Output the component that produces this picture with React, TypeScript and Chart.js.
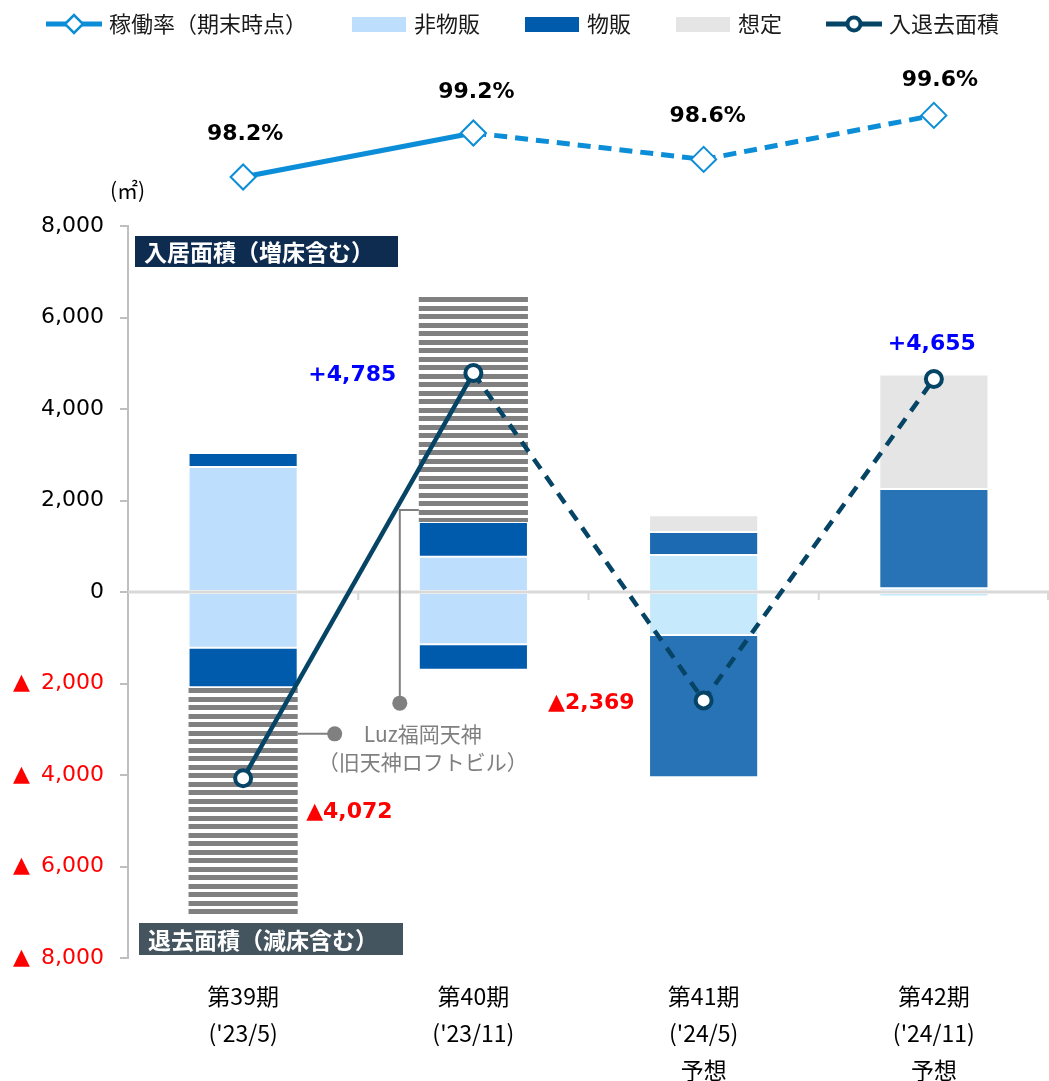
import React, { useEffect, useRef } from 'react';
import { Chart, registerables } from 'chart.js';

Chart.register(...registerables);

// ---------- data ----------
const CATEGORIES: string[][] = [
  ['第39期', "('23/5)"],
  ['第40期', "('23/11)"],
  ['第41期', "('24/5)", '予想'],
  ['第42期', "('24/11)", '予想'],
];
const OCCUPANCY_RATE = [98.2, 99.2, 98.6, 99.6];
const NET_AREA = [-4072, 4785, -2369, 4655];

const IN_NON_RETAIL = [2730, 770, 810, 80];
const IN_RETAIL = [310, 760, 500, 2170];
const IN_LUZ = [null, 4955, null, null];
const IN_ASSUMED = [null, null, 370, 2505];
const OUT_NON_RETAIL = [-1220, -1140, -940, -100];
const OUT_RETAIL = [-860, -560, -3109, null];
const OUT_LUZ = [-5032, null, null, null];

const Y_MIN = -8000;
const Y_MAX = 8000;
const Y_STEP = 2000;
const RATE_AXIS_MIN = 80.45;
const RATE_AXIS_MAX = 97.086;

const LEGEND_LABELS = ['稼働率（期末時点）', '非物販', '物販', '想定', '入退去面積'];
const LUZ_TEXT = ['Luz福岡天神', '（旧天神ロフトビル）'];
const BOX_IN_TEXT = '入居面積（増床含む）';
const BOX_OUT_TEXT = '退去面積（減床含む）';
const UNIT_TEXT = '(㎡)';

// ---------- styles ----------
const C_NONRETAIL = '#BDDFFD';
const C_NONRETAIL_F = '#C6EAFC';
const C_RETAIL = '#005BAC';
const C_RETAIL_41 = '#1B6AB2';
const C_RETAIL_F = '#2873B5';
const C_ASSUMED = '#E5E5E5';
const C_RATE = '#0B8DD7';
const C_NET = '#064466';
const JP = '"Noto Sans CJK JP", "Noto Sans", sans-serif';
const NUM = '"DejaVu Sans", Verdana, sans-serif';

function makeHatch(): any {
  const c = document.createElement('canvas');
  c.width = 4;
  c.height = 17;
  const g = c.getContext('2d')!;
  g.fillStyle = '#ffffff';
  g.fillRect(0, 0, 4, 17);
  g.fillStyle = '#808080';
  g.fillRect(0, 0, 4, 5);
  g.fillRect(0, 8, 4, 5);
  return g.createPattern(c, 'repeat');
}

function makeLineMarker(color: string, kind: 'diamond' | 'circle') {
  const c = document.createElement('canvas');
  c.width = 56;
  c.height = 28;
  const g = c.getContext('2d')!;
  g.strokeStyle = color;
  g.lineWidth = 5;
  g.beginPath();
  g.moveTo(0, 14);
  g.lineTo(56, 14);
  g.stroke();
  g.fillStyle = '#ffffff';
  if (kind === 'diamond') {
    g.lineWidth = 2.5;
    g.beginPath();
    g.moveTo(28 - 9, 14);
    g.lineTo(28, 14 - 9);
    g.lineTo(28 + 9, 14);
    g.lineTo(28, 14 + 9);
    g.closePath();
    g.fill();
    g.stroke();
  } else {
    g.lineWidth = 4;
    g.beginPath();
    g.arc(28, 14, 6.5, 0, Math.PI * 2);
    g.fill();
    g.stroke();
  }
  return c;
}

function makeRect(color: string) {
  const c = document.createElement('canvas');
  c.width = 54;
  c.height = 15;
  const g = c.getContext('2d')!;
  g.fillStyle = color;
  g.fillRect(0, 0, 54, 15);
  return c;
}

const fmt = (v: number) => Math.abs(v).toLocaleString('en-US');

// dataset indices
const IDX_RATE = 0;
const IDX_NET = 1;

const legendSpacer = {
  id: 'legendSpacer',
  beforeLayout(chart: any) {
    const legend = chart.legend;
    if (!legend || legend.__patched) return;
    const orig = legend.fit.bind(legend);
    legend.fit = function () {
      const mw = this.maxWidth;
      this.maxWidth = mw + 300;
      orig();
      this.maxWidth = mw;
      this.width = mw;
      this.height = 261;
    };
    legend.__patched = true;
  },
};

const decorations = {
  id: 'decorations',
  beforeDatasetsDraw(chart: any) {
    chart.__zeroDrawn = false;
  },
  beforeDatasetDraw(chart: any, args: any) {
    if (chart.__zeroDrawn || args.meta.type !== 'line') return;
    chart.__zeroDrawn = true;
    const { ctx, chartArea, scales } = chart;
    const y0 = scales.y.getPixelForValue(0);
    ctx.save();
    ctx.strokeStyle = '#d9d9d9';
    ctx.lineWidth = 3;
    ctx.beginPath();
    ctx.moveTo(chartArea.left, y0);
    ctx.lineTo(chartArea.right, y0);
    ctx.stroke();
    ctx.lineWidth = 2;
    const n = CATEGORIES.length;
    for (let i = 1; i <= n; i++) {
      const xb = i < n ? (scales.x.getPixelForValue(i - 1) + scales.x.getPixelForValue(i)) / 2 : chartArea.right - 1;
      ctx.beginPath();
      ctx.moveTo(xb, y0);
      ctx.lineTo(xb, y0 + 8);
      ctx.stroke();
    }
    ctx.restore();
  },
  afterDatasetDraw(chart: any, args: any) {
    // occupancy markers sit above the bar plot area: draw them without area clipping
    if (args.index !== IDX_RATE) return;
    const { ctx } = chart;
    ctx.save();
    args.meta.data.forEach((p: any) => p.draw(ctx));
    ctx.restore();
  },
  afterDatasetsDraw(chart: any) {
    const { ctx, chartArea, scales } = chart;
    const ys = scales.y;
    ctx.save();

    // unit
    ctx.fillStyle = '#000';
    ctx.font = `21px ${JP}`;
    ctx.textAlign = 'left';
    ctx.textBaseline = 'middle';
    ctx.fillText(UNIT_TEXT, chartArea.left - 18, ys.getPixelForValue(Y_MAX) - 36);

    // label boxes
    const drawBox = (text: string, left: number, top: number, w: number, h: number, bg: string) => {
      ctx.fillStyle = bg;
      ctx.fillRect(left, top, w, h);
      ctx.fillStyle = '#ffffff';
      ctx.font = `bold 23px ${JP}`;
      ctx.textAlign = 'left';
      ctx.textBaseline = 'middle';
      ctx.fillText(text, left + 9, top + h / 2 + 1);
    };
    drawBox(BOX_IN_TEXT, chartArea.left + 7, ys.getPixelForValue(Y_MAX) + 10, 263, 31, '#0E2B50');
    drawBox(BOX_OUT_TEXT, chartArea.left + 11, ys.getPixelForValue(Y_MIN) - 35, 264, 32, '#45555F');

    // Luz callouts
    const barMeta = chart.getDatasetMeta(2);
    const bar0: any = barMeta.data[0];
    const bar1: any = barMeta.data[1];
    ctx.strokeStyle = '#808080';
    ctx.fillStyle = '#808080';
    ctx.lineWidth = 2;
    const b0Right = bar0.x + bar0.width / 2;
    const c1y = ys.getPixelForValue(-3100);
    const dot1x = b0Right + 37;
    ctx.beginPath();
    ctx.moveTo(b0Right, c1y);
    ctx.lineTo(dot1x, c1y);
    ctx.stroke();
    ctx.beginPath();
    ctx.arc(dot1x, c1y, 7.5, 0, Math.PI * 2);
    ctx.fill();

    const b1Left = bar1.x - bar1.width / 2;
    const c2y = ys.getPixelForValue(1790);
    const dot2x = b1Left - 19;
    const dot2y = ys.getPixelForValue(-2430);
    ctx.beginPath();
    ctx.moveTo(b1Left, c2y);
    ctx.lineTo(dot2x, c2y);
    ctx.lineTo(dot2x, dot2y);
    ctx.stroke();
    ctx.beginPath();
    ctx.arc(dot2x, dot2y, 7.5, 0, Math.PI * 2);
    ctx.fill();

    ctx.fillStyle = '#7f7f7f';
    ctx.font = `21px ${JP}`;
    ctx.textAlign = 'center';
    ctx.textBaseline = 'middle';
    ctx.fillText(LUZ_TEXT[0], dot1x + 88, c1y);
    ctx.fillText(LUZ_TEXT[1], dot1x + 88, c1y + 28);

    // occupancy labels
    const rateMeta = chart.getDatasetMeta(IDX_RATE);
    const rateDx = [2, 3, 4, 6];
    const rateDy = [43, 41, 43, 35];
    ctx.fillStyle = '#000';
    ctx.font = `bold 22px ${NUM}`;
    ctx.textAlign = 'center';
    rateMeta.data.forEach((p: any, i: number) => {
      ctx.fillText(OCCUPANCY_RATE[i].toFixed(1) + '%', p.x + rateDx[i], p.y - rateDy[i]);
    });

    // net labels
    const netMeta = chart.getDatasetMeta(IDX_NET);
    const place = [
      { align: 'left', dx: 63, dy: 34 },
      { align: 'right', dx: -77, dy: 2 },
      { align: 'right', dx: -69, dy: 3 },
      { align: 'center', dx: -2, dy: -35 },
    ];
    netMeta.data.forEach((p: any, i: number) => {
      const v = NET_AREA[i];
      ctx.fillStyle = v < 0 ? '#FF0000' : '#0000FF';
      ctx.textAlign = place[i].align as CanvasTextAlign;
      ctx.fillText((v < 0 ? '▲' : '+') + fmt(v), p.x + place[i].dx, p.y + place[i].dy);
    });
    ctx.restore();
  },
};

export default function App() {
  const ref = useRef<HTMLCanvasElement>(null);

  useEffect(() => {
    if (!ref.current) return;
    const hatch = makeHatch();
    const legendImgs = [
      makeLineMarker(C_RATE, 'diamond'),
      makeRect(C_NONRETAIL),
      makeRect(C_RETAIL),
      makeRect(C_ASSUMED),
      makeLineMarker(C_NET, 'circle'),
    ];
    const legendColors = [C_RATE, C_NONRETAIL, C_RETAIL, C_ASSUMED, C_NET];

    const barCommon = {
      type: 'bar' as const,
      stack: 's',
      order: 2,
      borderColor: '#ffffff',
      borderWidth: 1,
      borderSkipped: false,
      categoryPercentage: 1,
      barPercentage: 0.474,
    };

    const chart = new Chart(ref.current, {
      type: 'bar',
      data: {
        labels: CATEGORIES,
        datasets: [
          {
            type: 'line',
            label: LEGEND_LABELS[0],
            data: OCCUPANCY_RATE,
            yAxisID: 'yRate',
            order: 0,
            stack: 'rate',
            clip: false,
            borderColor: C_RATE,
            borderWidth: 5,
            pointStyle: 'rectRot',
            pointRadius: 12.5,
            pointHoverRadius: 12.5,
            pointBorderWidth: 2,
            pointBackgroundColor: '#ffffff',
            pointBorderColor: C_RATE,
            segment: { borderDash: (c: any) => (c.p0DataIndex >= 1 ? [13, 8] : undefined) },
          } as any,
          {
            type: 'line',
            label: LEGEND_LABELS[4],
            data: NET_AREA,
            yAxisID: 'y',
            order: 0,
            stack: 'net',
            borderColor: C_NET,
            borderWidth: 4.5,
            pointStyle: 'circle',
            pointRadius: 8,
            pointBorderWidth: 4,
            pointBackgroundColor: '#ffffff',
            pointBorderColor: C_NET,
            segment: { borderDash: (c: any) => (c.p0DataIndex >= 1 ? [12, 9] : undefined) },
          } as any,
          { ...barCommon, label: '非物販(入居)', data: IN_NON_RETAIL, backgroundColor: [C_NONRETAIL, C_NONRETAIL, C_NONRETAIL_F, C_NONRETAIL_F] },
          { ...barCommon, label: '物販(入居)', data: IN_RETAIL, backgroundColor: [C_RETAIL, C_RETAIL, C_RETAIL_41, C_RETAIL_F] },
          { ...barCommon, label: 'Luz(入居)', data: IN_LUZ, backgroundColor: hatch, borderWidth: 0 },
          { ...barCommon, label: '想定', data: IN_ASSUMED, backgroundColor: C_ASSUMED },
          { ...barCommon, label: '非物販(退去)', data: OUT_NON_RETAIL, backgroundColor: [C_NONRETAIL, C_NONRETAIL, C_NONRETAIL_F, C_NONRETAIL_F] },
          { ...barCommon, label: '物販(退去)', data: OUT_RETAIL, backgroundColor: [C_RETAIL, C_RETAIL, C_RETAIL_F, C_RETAIL_F] },
          { ...barCommon, label: 'Luz(退去)', data: OUT_LUZ, backgroundColor: hatch, borderWidth: 0 },
        ] as any,
      },
      options: {
        animation: false,
        responsive: true,
        maintainAspectRatio: false,
        events: [],
        layout: { autoPadding: false, padding: { top: -35, left: 0, right: 0, bottom: 0 } },
        plugins: {
          tooltip: { enabled: false },
          legend: {
            display: true,
            position: 'top',
            align: 'center',
            labels: {
              usePointStyle: true,
              pointStyleWidth: 48,
              padding: 48,
              color: '#1a1a1a',
              font: { family: JP, size: 22 },
              generateLabels: () =>
                LEGEND_LABELS.map((t, i) => ({
                  text: t,
                  pointStyle: legendImgs[i],
                  fillStyle: legendColors[i],
                  strokeStyle: legendColors[i],
                  fontColor: '#1a1a1a',
                  lineWidth: 0,
                  hidden: false,
                  datasetIndex: i === 0 ? 0 : i === 4 ? 1 : i + 1,
                })) as any,
            },
          },
        },
        scales: {
          x: {
            type: 'category',
            stacked: true,
            offset: true,
            grid: { display: false, drawTicks: false },
            border: { display: false },
            ticks: {
              autoSkip: false,
              maxRotation: 0,
              padding: 20,
              color: '#000',
              font: { family: JP, size: 23, lineHeight: '37px' } as any,
            },
            afterFit: (s: any) => {
              s.height = 123;
            },
          },
          y: {
            type: 'linear',
            stacked: true,
            min: Y_MIN,
            max: Y_MAX,
            ticks: {
              stepSize: Y_STEP,
              padding: 16,
              font: { family: NUM, size: 22 },
              color: (c: any) => (c.tick && c.tick.value < 0 ? '#FF0000' : '#000000'),
              callback: (v: any) => (v < 0 ? '▲\u2002' + fmt(v) : fmt(v)),
            },
            grid: { drawOnChartArea: false, drawTicks: true, tickLength: 8, color: '#bfbfbf', lineWidth: 2 },
            border: { display: true, color: '#bfbfbf', width: 2 },
            afterFit: (s: any) => {
              s.width = 128;
            },
          },
          yRate: {
            type: 'linear',
            display: false,
            min: RATE_AXIS_MIN,
            max: RATE_AXIS_MAX,
          },
        },
      } as any,
      plugins: [legendSpacer, decorations] as any,
    });
    return () => chart.destroy();
  }, []);

  return (
    <div style={{ position: 'absolute', left: 0, top: 0, width: 1049, height: 1081, background: '#fff' }}>
      <canvas ref={ref} />
    </div>
  );
}
